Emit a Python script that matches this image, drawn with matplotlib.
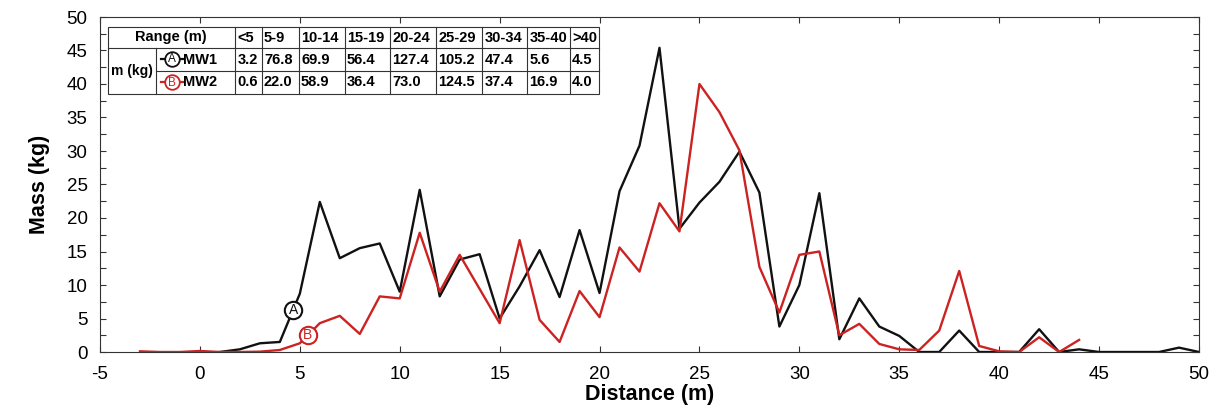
import numpy as np
import matplotlib
matplotlib.use("Agg")
import matplotlib.pyplot as plt
from matplotlib.lines import Line2D
from matplotlib.patches import Rectangle

plt.rcParams["font.family"] = ["Liberation Sans", "DejaVu Sans"]
plt.rcParams["axes.unicode_minus"] = False

# distance (m) and mass (kg) per 1 m bin
dist_mw1 = np.arange(1, 51)
mass_mw1 = [0, 0.4, 1.3, 1.5, 8.7, 22.4, 14.0, 15.5, 16.2, 9.0,
            24.2, 8.3, 13.8, 14.6, 5.0, 9.8, 15.2, 8.2, 18.2, 8.8,
            24.0, 30.8, 45.4, 18.4, 22.3, 25.4, 29.9, 23.8, 3.8, 10.0,
            23.7, 1.9, 8.0, 3.8, 2.4, 0, 0, 3.2, 0, 0,
            0, 3.4, 0, 0.4, 0, 0, 0, 0, 0.65, 0]

dist_mw2 = np.arange(-3, 45)
mass_mw2 = [0.1, 0, 0, 0.15, 0, 0, 0.05, 0.3, 1.3, 4.3,
            5.4, 2.7, 8.3, 8.0, 17.8, 9.0, 14.5, 9.4, 4.3, 16.7,
            4.8, 1.5, 9.1, 5.2, 15.6, 12.0, 22.2, 18.0, 40.0, 35.8,
            30.1, 12.7, 5.9, 14.5, 15.0, 2.5, 4.2, 1.2, 0.4, 0.3,
            3.2, 12.1, 0.9, 0.1, 0, 2.2, 0, 1.8]

# summary table
ranges = ["<5", "5-9", "10-14", "15-19", "20-24", "25-29", "30-34", "35-40", ">40"]
sum_mw1 = ["3.2", "76.8", "69.9", "56.4", "127.4", "105.2", "47.4", "5.6", "4.5"]
sum_mw2 = ["0.6", "22.0", "58.9", "36.4", "73.0", "124.5", "37.4", "16.9", "4.0"]

RED = "#cc2222"
BLACK = "#111111"

fig = plt.figure(figsize=(12.17, 4.15), dpi=100)
ax = fig.add_axes([100 / 1217, 1 - 352 / 415, 1099 / 1217, 335 / 415])

ax.plot(dist_mw1, mass_mw1, color=BLACK, lw=1.7, zorder=3)
ax.plot(dist_mw2, mass_mw2, color=RED, lw=1.7, zorder=4)

# circled labels on the lines
for xa, xs, ys, col, lab in [(4.67, dist_mw1, mass_mw1, BLACK, "A"),
                             (5.4, dist_mw2, mass_mw2, RED, "B")]:
    ya = np.interp(xa, xs, ys)
    ax.plot(xa, ya, "o", ms=12.5, mfc="white", mec=col, mew=1.5, zorder=6)
    ax.text(xa, ya, lab, color=col, ha="center", va="center",
            fontsize=10, zorder=7)

ax.set_xlim(-5, 50)
ax.set_ylim(0, 50)
ax.set_xticks(np.arange(-5, 51, 5))
ax.set_yticks(np.arange(0, 51, 5))
ax.set_yticks(np.arange(0, 50.1, 2.5), minor=True)
ax.tick_params(which="both", direction="in", top=True, right=True,
               labelsize=13.5, length=4, width=0.8, colors="#333333",
               labelcolor="black")
ax.tick_params(axis="x", pad=10)
ax.tick_params(axis="y", pad=9)
for s in ax.spines.values():
    s.set_linewidth(0.8)
    s.set_color("#333333")

ax.set_xlabel("Distance (m)", fontsize=15.5, fontweight="bold", labelpad=1)
ax.set_ylabel("Mass (kg)", fontsize=15.5, fontweight="bold", labelpad=12)

# ---- table drawn in axes coordinates ----
def px(x):
    return (x - 100) / 1099


def py(y):
    return (352 - y) / 335


cols = [107.5, 156, 235, 261.5, 298.5, 344.5, 390, 436, 482, 527, 569.5, 598.5]
rows = [27, 48, 71, 94]
tr = ax.transAxes
lkw = dict(transform=tr, color="#333333", lw=0.8, zorder=9, clip_on=False)

ax.add_patch(Rectangle((px(cols[0]), py(rows[-1])), px(cols[-1]) - px(cols[0]),
                       py(rows[0]) - py(rows[-1]), transform=tr,
                       facecolor="white", edgecolor="#333333", lw=0.8, zorder=8))
for r in rows[1:-1]:
    x0 = cols[0] if r == rows[1] else cols[1]
    ax.add_line(Line2D([px(x0), px(cols[-1])], [py(r), py(r)], **lkw))
for i, c in enumerate(cols[1:-1], start=1):
    y0 = rows[1] if i == 1 else rows[0]
    ax.add_line(Line2D([px(c), px(c)], [py(y0), py(rows[-1])], **lkw))

tkw = dict(transform=tr, fontsize=10.5, fontweight="bold", va="center", zorder=10)
ax.text(px((cols[0] + cols[2]) / 2), py((rows[0] + rows[1]) / 2), "Range (m)",
        ha="center", **tkw)
ax.text(px((cols[0] + cols[1]) / 2), py((rows[1] + rows[3]) / 2), "m (kg)",
        ha="center", **{**tkw, "fontsize": 10})
for j, lab in enumerate(ranges):
    ax.text(px(cols[j + 2] + 2.5), py((rows[0] + rows[1]) / 2), lab, ha="left", **tkw)
    ax.text(px(cols[j + 2] + 2.5), py((rows[1] + rows[2]) / 2), sum_mw1[j], ha="left", **tkw)
    ax.text(px(cols[j + 2] + 2.5), py((rows[2] + rows[3]) / 2), sum_mw2[j], ha="left", **tkw)

for k, (col, lab, name) in enumerate([(BLACK, "A", "MW1"), (RED, "B", "MW2")]):
    yc = py((rows[k + 1] + rows[k + 2]) / 2)
    ax.add_line(Line2D([px(161), px(183)], [yc, yc], transform=tr, color=col,
                       lw=1.6, zorder=10, clip_on=False))
    ax.plot(px(172), yc, "o", ms=10.5, mfc="white", mec=col, mew=1.3,
            transform=tr, zorder=11, clip_on=False)
    ax.text(px(172), yc, lab, color=col, ha="center", va="center",
            fontsize=8.5, transform=tr, zorder=12)
    ax.text(px(183.5), yc, name, ha="left", **tkw)

fig.savefig("out.png", dpi=100)
